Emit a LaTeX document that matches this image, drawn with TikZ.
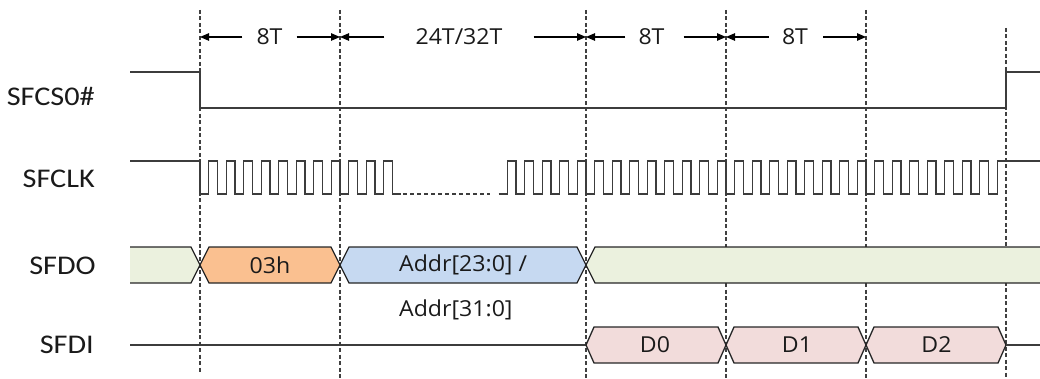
\documentclass[tikz,border=0pt]{standalone}
\usepackage{fontspec}
\setmainfont{Open Sans}
\newfontfamily\labfont{Carlito}
\usetikzlibrary{arrows.meta}
\definecolor{sigc}{HTML}{3C3C3C}
\definecolor{guidec}{HTML}{404040}
\definecolor{busc}{HTML}{262626}
\definecolor{txt}{HTML}{1A1A1A}
\definecolor{fgreen}{HTML}{EBF1DE}
\definecolor{forange}{HTML}{FAC090}
\definecolor{fblue}{HTML}{C6D9F1}
\definecolor{fpink}{HTML}{F2DCDB}
\tikzset{
  sig/.style={draw=sigc, line width=1.4pt, line join=miter},
  guide/.style={draw=guidec, line width=1.2pt, dash pattern=on 4pt off 2.5pt},
  dim/.style={draw=black, line width=1.1pt, -{Triangle[length=9pt,width=7.5pt]}},
  bus/.style={draw=busc, line width=1.3pt, line join=miter},
  lab/.style={font=\labfont\fontsize{27}{30}\selectfont, xscale=1.12, inner sep=0pt, text=txt},
  val/.style={font=\fontsize{22}{25}\selectfont, xscale=1.05, inner sep=0pt, text=txt},
}
\begin{document}
\begin{tikzpicture}[x=1pt,y=-1pt]
\useasboundingbox (0,0) rectangle (1040,379);

% guide lines
\coordinate (g0) at (200,37);
\coordinate (g1) at (340,37);
\coordinate (g2) at (586,37);
\coordinate (g3) at (726,37);
\coordinate (g4) at (866,37);
\draw[guide] (200,10) -- (200,372);
\draw[guide] (340,10) -- (340,379);
\draw[guide] (586,10) -- (586,379);
\draw[guide] (726,10) -- (726,379);
\draw[guide] (866,10) -- (866,379);
\draw[guide] (1006,28) -- (1006,379);

% dimension labels
\node[val] (d1) at (269.5,37) {8T};
\draw[dim] ([xshift=-14pt]d1.west) -- (g0);
\draw[dim] ([xshift=14pt]d1.east) -- (g1);
\node[val] (d2) at (459,37) {24T/32T};
\draw[dim] ([xshift=-31pt]d2.west) -- (g1);
\draw[dim] ([xshift=31pt]d2.east) -- (g2);
\node[val] (d3) at (651.5,37) {8T};
\draw[dim] ([xshift=-13pt]d3.west) -- (g2);
\draw[dim] ([xshift=19pt]d3.east) -- (g3);
\node[val] (d4) at (795,37) {8T};
\draw[dim] ([xshift=-13pt]d4.west) -- (g3);
\draw[dim] ([xshift=15pt]d4.east) -- (g4);

% signal labels
\node[lab, anchor=base east] (lcs) at (95,106) {SFCS0\#};
\node[lab, anchor=base east] (lclk) at (95,188) {SFCLK};
\node[lab, anchor=base east] (ldo) at (96,274) {SFDO};
\node[lab, anchor=base east] (ldi) at (94,353) {SFDI};

% SFCS0#
\draw[sig] (130,72) -- (200,72) -- (200,108) -- (1006,108) -- (1006,72) -- (1040,72);

% SFCLK
\draw[sig] (130,161) -- (200,161) -- (200,194)
  foreach \k in {0,...,10} {
    -- ({200+\k*17.5+8.75},194) -- ({200+\k*17.5+8.75},161)
    -- ({200+(\k+1)*17.5},161) -- ({200+(\k+1)*17.5},194) }
  -- (401,194);
\draw[sig, dash pattern=on 4pt off 3pt] (403,194) -- (490,194);
\draw[sig] (498.5,194)
  foreach \k in {0,...,27} {
    -- ({498.5+\k*17.5+8.75},194) -- ({498.5+\k*17.5+8.75},161)
    -- ({498.5+(\k+1)*17.5},161) -- ({498.5+(\k+1)*17.5},194) }
  -- (997.25,194) -- (997.25,161) -- (1040,161);

% SFDO
\fill[fgreen] (130,247) -- (191,247) -- (200,265) -- (191,283) -- (130,283) -- cycle;
\draw[bus] (130,247) -- (191,247) -- (200,265) -- (191,283) -- (130,283);
\draw[bus, fill=forange] (200,265) -- (209,247) -- (331,247) -- (340,265) -- (331,283) -- (209,283) -- cycle;
\draw[bus, fill=fblue] (340,265) -- (349,247) -- (577,247) -- (586,265) -- (577,283) -- (349,283) -- cycle;
\fill[fgreen] (1040,247) -- (595,247) -- (586,265) -- (595,283) -- (1040,283) -- cycle;
\draw[bus] (1040,247) -- (595,247) -- (586,265) -- (595,283) -- (1040,283);
\node[val] (v03) at (270,265) {03h};
\node[val, anchor=west] (va1) at (399,265) {Addr[23:0] /};
\node[val, anchor=west] (va2) at (399,310) {Addr[31:0]};

% SFDI
\draw[sig] (130,345) -- (586,345);
\draw[bus, fill=fpink] (586,345) -- (594,327) -- (718,327) -- (726,345) -- (718,363) -- (594,363) -- cycle;
\draw[bus, fill=fpink] (726,345) -- (734,327) -- (858,327) -- (866,345) -- (858,363) -- (734,363) -- cycle;
\draw[bus, fill=fpink] (866,345) -- (874,327) -- (998,327) -- (1006,345) -- (998,363) -- (874,363) -- cycle;
\draw[sig] (1006,345) -- (1040,345);
\node[val] (vd0) at (655,345) {D0};
\node[val] (vd1) at (797,345) {D1};
\node[val] (vd2) at (936.5,345) {D2};
\end{tikzpicture}
\end{document}
